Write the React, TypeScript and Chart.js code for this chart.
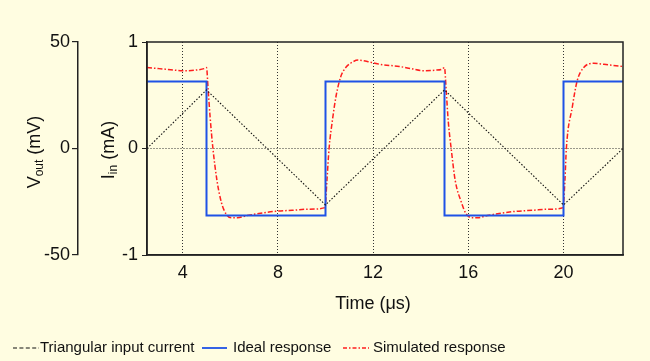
import React, { useEffect, useRef } from "react";
import { Chart, registerables } from "chart.js";

Chart.register(...registerables);

// ---- data ----
const timeTicks = [4, 8, 12, 16, 20];
const currentTicks = [-1, 0, 1];
const voltageTicks = [-50, 0, 50];

const timeTri = [2.5, 5, 10, 15, 20, 22.5];
const currentTri = [0, 0.55, -0.53, 0.55, -0.53, 0];

const timeIdeal = [2.5, 5, 5, 10, 10, 15, 15, 20, 20, 22.5];
const ideal = [0.63, 0.63, -0.63, -0.63, 0.63, 0.63, -0.63, -0.63, 0.63, 0.63];

const timeSim = [
  2.5, 3.0, 3.5, 4.0, 4.5, 4.9, 5.0, 5.07, 5.15, 5.27, 5.44, 5.63, 5.84, 6.05, 6.3, 6.7, 7.2, 7.9, 8.6, 9.3,
  9.98, 10.06, 10.15, 10.3, 10.45, 10.65, 10.85, 11.05, 11.37, 11.9, 12.3, 13.1, 13.6, 14.1, 14.6, 14.9, 15.0,
  15.07, 15.16, 15.28, 15.45, 15.7, 15.9, 16.15, 16.4, 16.8, 17.3, 18.0, 18.7, 19.4, 19.98, 20.06, 20.12, 20.37,
  20.58, 20.85, 21.27, 21.7, 22.1, 22.5,
];
const simulated = [
  0.76, 0.75, 0.74, 0.73, 0.735, 0.75, 0.76, 0.55, 0.3, 0.0, -0.3, -0.51, -0.62, -0.65, -0.65, -0.63, -0.61,
  -0.59, -0.58, -0.57, -0.555, -0.3, 0.0, 0.28, 0.5, 0.68, 0.76, 0.8, 0.83, 0.81, 0.79, 0.77, 0.75, 0.73, 0.735,
  0.745, 0.76, 0.55, 0.25, 0.0, -0.3, -0.5, -0.61, -0.65, -0.65, -0.63, -0.61, -0.59, -0.58, -0.57, -0.555, -0.3,
  0.0, 0.39, 0.64, 0.76, 0.8, 0.79, 0.78, 0.77,
];

const legendLabels = ["Triangular input current", "Ideal response", "Simulated response"];

const BG = "#fffde1";
const FONT = "Arial, 'Liberation Sans', sans-serif";
const INK = "#111";
const BLUE = "#1f52e6";
const RED = "#ff1e1e";

const zip = (xs: number[], ys: number[]) => xs.map((x, i) => ({ x, y: ys[i] }));

const decorPlugin = {
  id: "decor",
  beforeDraw(chart: any) {
    const { ctx, width, height } = chart;
    ctx.save();
    ctx.fillStyle = BG;
    ctx.fillRect(0, 0, width, height);
    ctx.restore();
  },
  afterDraw(chart: any) {
    const { ctx, chartArea } = chart;
    ctx.save();
    // frame
    ctx.strokeStyle = "#222";
    ctx.lineWidth = 1.5;
    ctx.setLineDash([]);
    ctx.strokeRect(chartArea.left, chartArea.top, chartArea.right - chartArea.left, chartArea.bottom - chartArea.top);

    // rotated titles with subscripts
    const drawSubTitle = (cx: number, cy: number, main: string, sub: string, rest: string) => {
      ctx.save();
      ctx.translate(cx, cy);
      ctx.rotate(-Math.PI / 2);
      ctx.fillStyle = INK;
      ctx.textBaseline = "middle";
      ctx.textAlign = "left";
      const big = `18px ${FONT}`;
      const small = `12px ${FONT}`;
      ctx.font = big;
      const w1 = ctx.measureText(main).width;
      const w3 = ctx.measureText(rest).width;
      ctx.font = small;
      const w2 = ctx.measureText(sub).width;
      let x = -(w1 + w2 + w3) / 2;
      ctx.font = big;
      ctx.fillText(main, x, 0);
      x += w1;
      ctx.font = small;
      ctx.fillText(sub, x, 5);
      x += w2;
      ctx.font = big;
      ctx.fillText(rest, x, 0);
      ctx.restore();
    };
    drawSubTitle(35, 152, "V", "out", " (mV)");
    drawSubTitle(109, 150, "I", "in", " (mA)");

    // x title
    ctx.fillStyle = INK;
    ctx.font = `18px ${FONT}`;
    ctx.textAlign = "center";
    ctx.textBaseline = "middle";
    ctx.fillText("Time (\u03bcs)", 373, 304);

    // legend
    const ly = 348;
    const items = [
      { x0: 13, x1: 39, tx: 40, color: "#111", dash: [4, 2.4], width: 1.2, text: legendLabels[0] },
      { x0: 202, x1: 227, tx: 233, color: BLUE, dash: [], width: 1.8, text: legendLabels[1] },
      { x0: 343, x1: 369, tx: 373, color: RED, dash: [4, 2, 1.5, 2], width: 1.4, text: legendLabels[2] },
    ];
    ctx.font = `15px ${FONT}`;
    ctx.textAlign = "left";
    items.forEach((it) => {
      ctx.beginPath();
      ctx.strokeStyle = it.color;
      ctx.lineWidth = it.width;
      ctx.setLineDash(it.dash);
      ctx.moveTo(it.x0, ly);
      ctx.lineTo(it.x1, ly);
      ctx.stroke();
      ctx.setLineDash([]);
      ctx.fillStyle = INK;
      ctx.fillText(it.text, it.tx, ly);
    });
    ctx.restore();
  },
};

export default function App() {
  const ref = useRef<HTMLCanvasElement | null>(null);

  useEffect(() => {
    document.body.style.margin = "0";
    document.body.style.background = BG;
    if (!ref.current) return;
    const chart = new Chart(ref.current, {
      type: "line",
      data: {
        datasets: [
          {
            label: legendLabels[0],
            data: zip(timeTri, currentTri),
            borderColor: "#111",
            borderWidth: 1.1,
            borderDash: [1.5, 1.8],
            pointRadius: 0,
            fill: false,
            yAxisID: "y",
          },
          {
            label: legendLabels[1],
            data: zip(timeIdeal, ideal),
            borderColor: BLUE,
            borderWidth: 2,
            pointRadius: 0,
            fill: false,
            yAxisID: "y",
          },
          {
            label: legendLabels[2],
            data: zip(timeSim, simulated),
            borderColor: RED,
            borderWidth: 1.5,
            borderDash: [5, 2, 1.5, 2],
            cubicInterpolationMode: "monotone",
            pointRadius: 0,
            fill: false,
            yAxisID: "y",
          },
        ],
      },
      options: {
        responsive: false,
        animation: false,
        events: [],
        layout: { padding: { left: 0, right: 27, top: 42, bottom: 0 } },
        plugins: { legend: { display: false }, tooltip: { enabled: false } },
        scales: {
          x: {
            type: "linear",
            min: 2.5,
            max: 22.5,
            afterBuildTicks: (s: any) => {
              s.ticks = timeTicks.map((v) => ({ value: v }));
            },
            afterFit: (s: any) => {
              s.height = 106;
            },
            ticks: {
              font: { size: 18, family: FONT },
              color: INK,
              padding: 7,
              maxRotation: 0,
              callback: (v: any) => String(v),
            },
            grid: { color: "#333", lineWidth: 1, drawTicks: false },
            border: { display: true, color: "#222", width: 1.5, dash: [1, 2] },
          },
          y: {
            type: "linear",
            position: "left",
            weight: 0,
            min: -1,
            max: 1,
            afterBuildTicks: (s: any) => {
              s.ticks = currentTicks.map((v) => ({ value: v }));
            },
            afterFit: (s: any) => {
              s.width = 69;
            },
            ticks: {
              font: { size: 18, family: FONT },
              color: INK,
              padding: 4,
              callback: (v: any) => String(v),
            },
            grid: {
              color: (c: any) => (c.tick && c.tick.value === 0 ? "#333" : "rgba(0,0,0,0)"),
              tickColor: "#222",
              tickLength: 5,
              lineWidth: 1,
            },
            border: { display: true, color: "#222", width: 1.5, dash: [1, 2] },
          },
          yV: {
            type: "linear",
            position: "left",
            display: true,
            weight: 10,
            min: -50,
            max: 50,
            afterBuildTicks: (s: any) => {
              s.ticks = voltageTicks.map((v) => ({ value: v }));
            },
            afterFit: (s: any) => {
              s.width = 78;
            },
            ticks: {
              font: { size: 18, family: FONT },
              color: INK,
              padding: 2,
              callback: (v: any) => String(v),
            },
            grid: { drawOnChartArea: false, color: "#222", tickColor: "#222", tickLength: 6, lineWidth: 1.2 },
            border: { display: true, color: "#222", width: 1.5 },
          },
        },
      },
      plugins: [decorPlugin],
    } as any);
    return () => chart.destroy();
  }, []);

  return <canvas ref={ref} width={650} height={361} style={{ display: "block" }} />;
}
